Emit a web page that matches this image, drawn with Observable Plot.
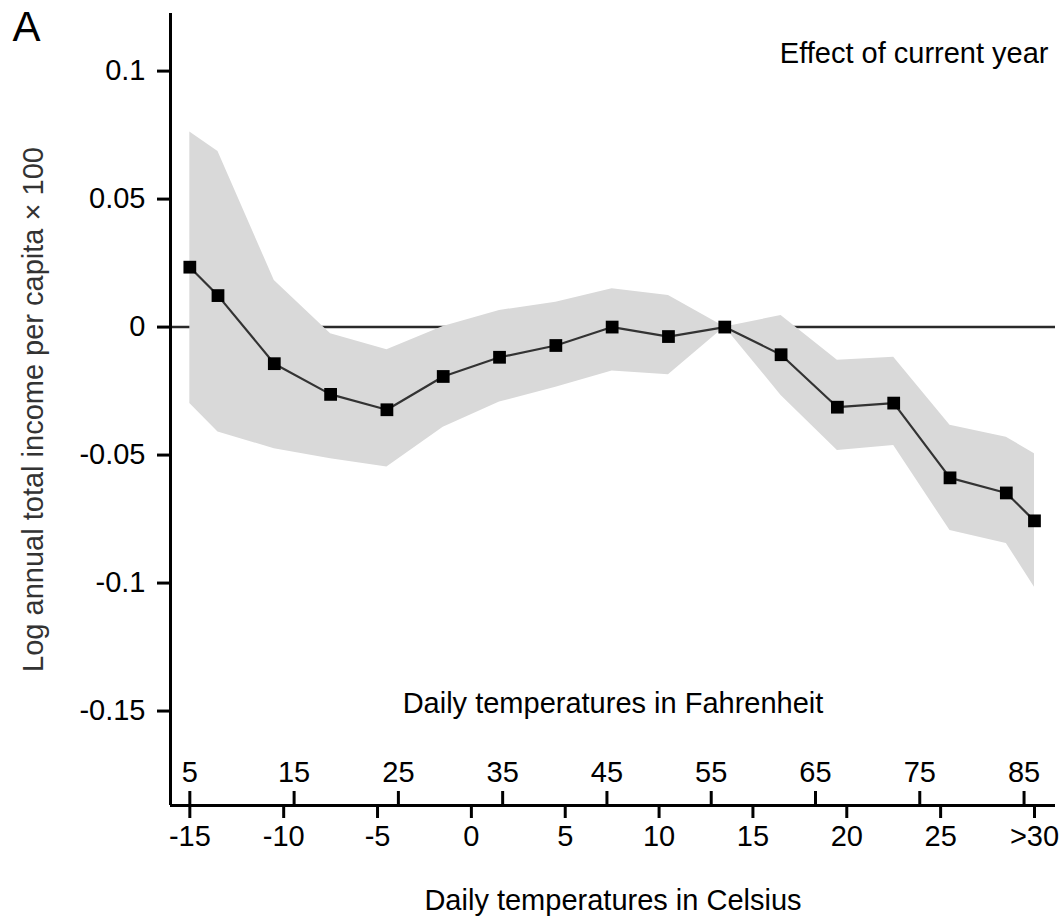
<!DOCTYPE html>
<html>
<head>
<meta charset="utf-8">
<script src="https://cdn.jsdelivr.net/npm/d3@7"></script>
<script src="https://cdn.jsdelivr.net/npm/@observablehq/plot@0.6"></script>
<style>
  html, body { margin: 0; padding: 0; background: #fff; }
  #chart svg { display: block; }
</style>
</head>
<body>
<div id="chart"></div>
<script>
// Temperature bins (bin midpoints in °C; the end bins are open: <-15 and >30)
const celsius = [-15, -13.5, -10.5, -7.5, -4.5, -1.5, 1.5, 4.5, 7.5, 10.5, 13.5, 16.5, 19.5, 22.5, 25.5, 28.5, 30];
// Point estimates and 95% confidence bounds (12–15 °C is the omitted reference bin)
const estimate = [0.0234, 0.0123, -0.0143, -0.0263, -0.0323, -0.0193, -0.0118, -0.0072, 0, -0.0037, 0, -0.0108, -0.0313, -0.0297, -0.0589, -0.0648, -0.0757];
const upper    = [0.0762, 0.0686, 0.0182, -0.0026, -0.0089, 0.0002, 0.0065, 0.0097, 0.0150, 0.0123, 0, 0.0045, -0.0130, -0.0118, -0.0384, -0.0430, -0.0495];
const lower    = [-0.0299, -0.0410, -0.0475, -0.0514, -0.0547, -0.0391, -0.0293, -0.0235, -0.0172, -0.0186, 0, -0.0267, -0.0482, -0.0463, -0.0795, -0.0845, -0.1016];

// Axis ticks
const celsiusTicks  = [-15, -10, -5, 0, 5, 10, 15, 20, 25, 30];
const celsiusLabels = ["-15", "-10", "-5", "0", "5", "10", "15", "20", "25", ">30"];
const fahrenheitTicks = [5, 15, 25, 35, 45, 55, 65, 75, 85];
const yTicks = [0.1, 0.05, 0, -0.05, -0.1, -0.15];

const panelLabel = "A";
const panelTitle = "Effect of current year";
const yLabel = "Log annual total income per capita \u00d7 100";
const fahrenheitTitle = "Daily temperatures in Fahrenheit";
const celsiusTitle = "Daily temperatures in Celsius";

const toCelsius = f => (f - 32) * 5 / 9;
const rows = celsius.map((c, i) => ({c, est: estimate[i], lo: lower[i], hi: upper[i]}));

const xDomain = [-16.03, 31.12];
const yDomain = [-0.1869, 0.1225];
const font = "'Liberation Sans', Arial, Helvetica, sans-serif";
const fs = 29;
const W = 1063, H = 918;
const mTop = 13, mBottom = 113;
const innerH = H - mTop - mBottom;
const axisWidth = 3;

const chart = Plot.plot({
  width: W,
  height: H,
  marginLeft: 170,
  marginRight: 8,
  marginTop: mTop,
  marginBottom: mBottom,
  style: {fontSize: fs + "px", fontFamily: font, background: "#fff", color: "#000"},
  x: {domain: xDomain, label: null},
  y: {domain: yDomain, label: null},
  marks: [
    // zero reference line
    Plot.ruleY([0], {stroke: "#2a2a2a", strokeWidth: 2.5}),
    // confidence band
    Plot.areaY(rows, {x: "c", y1: "lo", y2: "hi", fill: "#d9d9d9"}),
    // estimates
    Plot.line(rows, {x: "c", y: "est", stroke: "#333", strokeWidth: 2.2}),
    Plot.dot(rows, {x: "c", y: "est", symbol: "square", r: 7.2, fill: "#000", stroke: null}),
    // axis lines (left and bottom only)
    Plot.ruleX([xDomain[0]], {strokeWidth: axisWidth}),
    Plot.ruleY([yDomain[0]], {strokeWidth: axisWidth}),
    // y axis
    Plot.axisY({
      ticks: yTicks, tickFormat: d => String(d), tickSize: 13, tickPadding: 12,
      strokeWidth: axisWidth, fontSize: fs, label: null
    }),
    // Celsius axis below
    Plot.axisX({
      anchor: "bottom", ticks: celsiusTicks,
      tickFormat: d => celsiusLabels[celsiusTicks.indexOf(d)],
      tickSize: 13, tickPadding: 7, strokeWidth: axisWidth, fontSize: fs, label: null
    }),
    // Fahrenheit ticks pointing up from the bottom axis
    Plot.tickX(fahrenheitTicks, {x: toCelsius, insetTop: innerH - 14, strokeWidth: axisWidth}),
    Plot.text(fahrenheitTicks, {
      x: toCelsius, frameAnchor: "bottom", dy: -33, lineAnchor: "middle",
      text: d => String(d), fontSize: fs
    }),
    // titles and labels
    Plot.text([fahrenheitTitle], {frameAnchor: "bottom", dy: -102, lineAnchor: "middle", fontSize: fs}),
    Plot.text([celsiusTitle], {frameAnchor: "bottom", dy: 95, lineAnchor: "middle", fontSize: fs}),
    Plot.text([panelTitle], {frameAnchor: "top-right", dx: -7, dy: 40, textAnchor: "end", lineAnchor: "middle", fontSize: fs}),
    Plot.text([panelLabel], {frameAnchor: "top-left", dx: -158, dy: 14, textAnchor: "start", lineAnchor: "middle", fontSize: 42}),
    Plot.text([yLabel], {
      frameAnchor: "left", dx: -137, rotate: -90, textAnchor: "middle", lineAnchor: "middle",
      fontSize: fs, fill: "#333"
    })
  ]
});

document.getElementById("chart").appendChild(chart);
</script>
</body>
</html>
